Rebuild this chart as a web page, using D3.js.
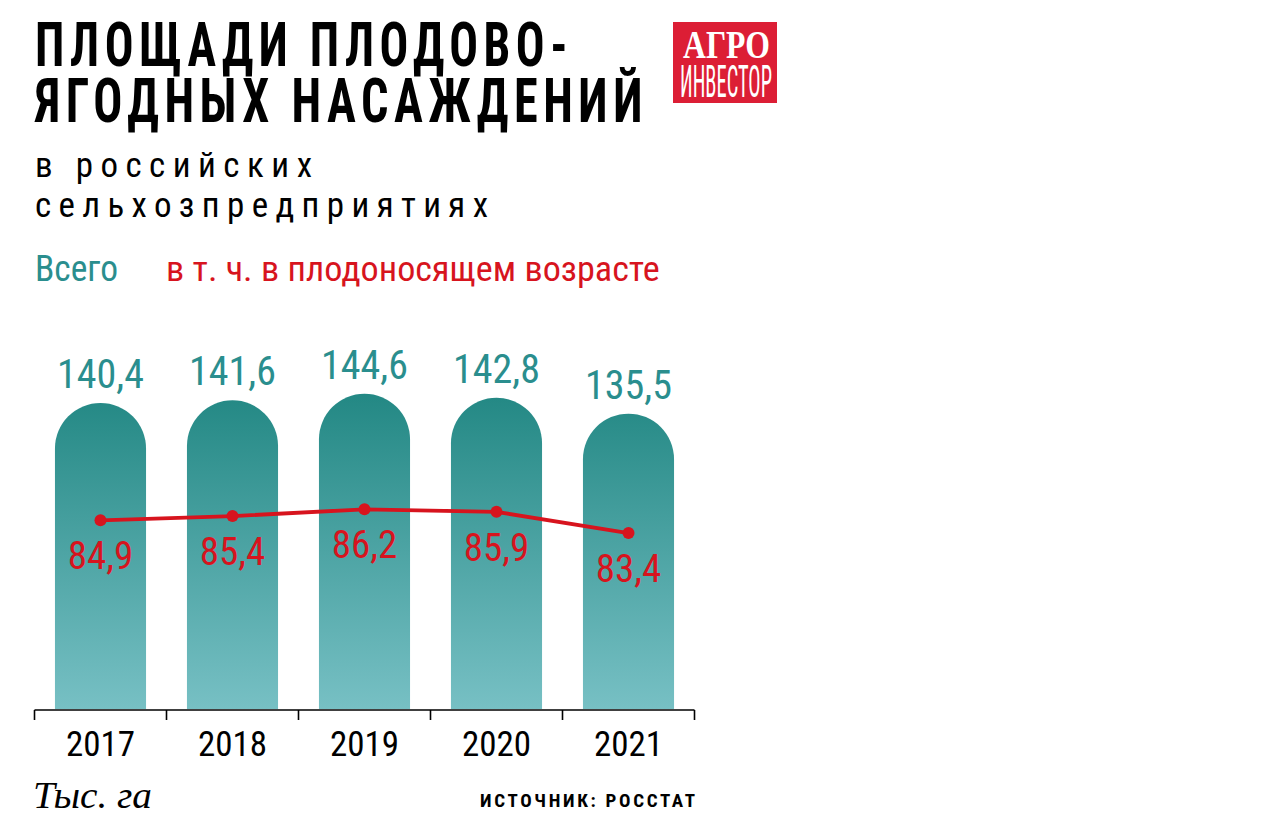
<!DOCTYPE html>
<html><head><meta charset="utf-8">
<script src="https://cdn.jsdelivr.net/npm/d3@7"></script>
<style>
html,body{margin:0;padding:0;background:#fff;}
svg{display:block;}
</style></head>
<body>
<svg id="chart" width="1273" height="830"></svg>
<script>
const years = ["2017", "2018", "2019", "2020", "2021"];
const totalArea = [140.4, 141.6, 144.6, 142.8, 135.5];
const bearingArea = [84.9, 85.4, 86.2, 85.9, 83.4];
const titleLines = ["ПЛОЩАДИ ПЛОДОВО-", "ЯГОДНЫХ НАСАЖДЕНИЙ"];
const subtitleLines = ["в российских", "сельхозпредприятиях"];
const legendLabels = ["Всего", "в т. ч. в плодоносящем возрасте"];
const logoLines = ["АГРО", "ИНВЕСТОР"];
const unitLabel = "Тыс. га";
const sourceLabel = "ИСТОЧНИК: РОССТАТ";

const fmt = v => String(v).replace(".", ",");
const TEAL = "#2a8e8e", RED = "#d7141e";
const NARROW = '"Liberation Sans Narrow","Roboto Condensed","DejaVu Sans Condensed","Liberation Sans",sans-serif';
const SERIF = '"Liberation Serif","DejaVu Serif",serif';

const svg = d3.select("#chart");

// Helper: place text at (x, y) and scale it horizontally so it spans `w` px
function fitText(sel, x, y, w) {
  const natural = sel.node().getComputedTextLength();
  const k = w / natural;
  sel.attr("x", 0).attr("y", 0).attr("transform", `translate(${x},${y}) scale(${k},1)`);
  return sel;
}

// Title
const tl = [{y: 66, w: 533}, {y: 122, w: 608}];
titleLines.forEach((t, i) => {
  const s = svg.append("text").attr("class", "title")
    .style("font-family", NARROW).style("font-weight", "bold").style("font-size", "61px")
    .style("letter-spacing", "7px").attr("fill", "#000").text(t);
  fitText(s, 35, tl[i].y, tl[i].w + 5);
});

// Subtitle
const sl = [{y: 177, w: 277}, {y: 217, w: 453}];
subtitleLines.forEach((t, i) => {
  svg.append("text").attr("class", "sub")
    .attr("x", 35).attr("y", sl[i].y)
    .attr("textLength", sl[i].w).attr("lengthAdjust", "spacing")
    .style("font-family", NARROW).style("font-size", "35px").attr("fill", "#000").text(t);
});

// Legend
fitText(svg.append("text")
  .style("font-family", NARROW).style("font-size", "36px")
  .attr("fill", TEAL).text(legendLabels[0]), 35, 281, 83);
fitText(svg.append("text")
  .style("font-family", NARROW).style("font-size", "36px")
  .attr("fill", RED).text(legendLabels[1]), 166, 281, 494);

// Logo
const logo = svg.append("g");
logo.append("rect").attr("x", 673).attr("y", 22).attr("width", 104).attr("height", 81).attr("fill", "#dc1e35");
fitText(logo.append("text").attr("fill", "#fff")
  .style("font-family", SERIF).style("font-weight", "bold").style("font-size", "40px")
  .text(logoLines[0]), 683, 58, 87);
fitText(logo.append("text").attr("fill", "#fff")
  .style("font-family", NARROW).style("font-size", "44px")
  .text(logoLines[1]), 680, 97, 92);

// Scales
const x = d3.scaleBand().domain(years).range([34.5, 694.5]).padding(0);
const y = d3.scaleLinear().domain([0, 150]).range([709, 382]);
const yl = d3.scaleLinear().domain([80, 90]).range([562, 477]);
const barW = x.bandwidth() * 0.69;

// Gradient
const defs = svg.append("defs");
const grad = defs.append("linearGradient").attr("id", "barGrad")
  .attr("gradientUnits", "userSpaceOnUse").attr("x1", 0).attr("x2", 0).attr("y1", y(144.6)).attr("y2", y(0));
grad.append("stop").attr("offset", "0%").attr("stop-color", "#238884");
grad.append("stop").attr("offset", "100%").attr("stop-color", "#77c0c4");

const data = years.map((yr, i) => ({yr, total: totalArea[i], bearing: bearingArea[i]}));
const cx = d => x(d.yr) + x.bandwidth() / 2;

// Bars with rounded tops
svg.selectAll("path.bar").data(data).join("path")
  .attr("class", "bar")
  .attr("fill", "url(#barGrad)")
  .attr("d", d => {
    const r = barW / 2;
    const x0 = cx(d) - r, x1 = cx(d) + r, top = y(d.total), bot = y(0);
    return `M${x0},${bot} L${x0},${top + r} A${r},${r} 0 0 1 ${x1},${top + r} L${x1},${bot} Z`;
  });

// Total labels
svg.selectAll("text.tot").data(data).join("text")
  .attr("class", "tot")
  .attr("x", cx).attr("y", d => y(d.total) - 15)
  .attr("text-anchor", "middle")
  .style("font-family", NARROW).style("font-size", "40px")
  .attr("fill", TEAL).text(d => fmt(d.total));

// Line
const line = d3.line().x(cx).y(d => yl(d.bearing));
svg.append("path").datum(data).attr("d", line)
  .attr("fill", "none").attr("stroke", RED).attr("stroke-width", 3.8);
svg.selectAll("circle.pt").data(data).join("circle")
  .attr("class", "pt")
  .attr("cx", cx).attr("cy", d => yl(d.bearing)).attr("r", 6)
  .attr("fill", RED);
svg.selectAll("text.brg").data(data).join("text")
  .attr("class", "brg")
  .attr("x", cx).attr("y", d => yl(d.bearing) + 49)
  .attr("text-anchor", "middle")
  .style("font-family", NARROW).style("font-size", "39px")
  .attr("fill", RED).text(d => fmt(d.bearing));

// Axis
const axisY = 710;
const ax = svg.append("g").attr("stroke", "#000").attr("stroke-width", 1.6);
ax.append("line").attr("x1", x.range()[0]).attr("x2", x.range()[1]).attr("y1", axisY).attr("y2", axisY);
const bounds = years.map(d => x(d)).concat([x.range()[1]]);
ax.selectAll("line.tick").data(bounds).join("line").attr("class", "tick")
  .attr("x1", d => d).attr("x2", d => d).attr("y1", axisY).attr("y2", axisY + 10);
svg.selectAll("text.yr").data(years).join("text")
  .attr("class", "yr")
  .attr("x", d => x(d) + x.bandwidth() / 2).attr("y", 756)
  .attr("text-anchor", "middle")
  .style("font-family", NARROW).style("font-size", "35px")
  .attr("fill", "#000").text(d => d);

// Footer
fitText(svg.append("text")
  .style("font-family", SERIF).style("font-style", "italic").style("font-size", "38px")
  .attr("fill", "#000").text(unitLabel), 33, 808, 119);
svg.append("text").attr("x", 695).attr("y", 807).attr("text-anchor", "end")
  .attr("textLength", 215).attr("lengthAdjust", "spacing")
  .style("font-family", NARROW).style("font-weight", "bold").style("font-size", "19px")
  .attr("fill", "#000").text(sourceLabel);
</script>
</body></html>
